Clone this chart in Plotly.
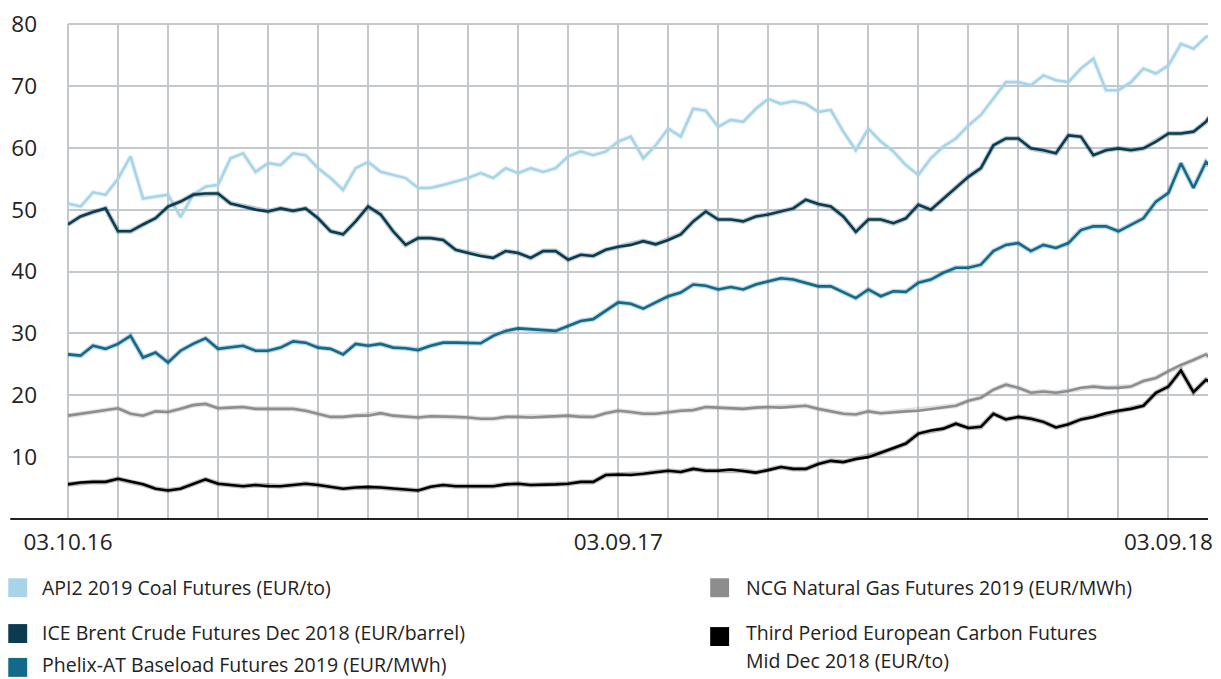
import plotly.graph_objects as go

# ---------------- data ----------------
tick_positions = [0, 44, 88]
tick_labels = ["03.10.16", "03.09.17", "03.09.18"]

coal = [51.0, 50.5, 52.8, 52.4, 55.0, 58.6, 51.8, 52.1, 52.4, 48.8, 52.4, 53.7, 54.0, 58.3, 59.1, 56.1, 57.5, 57.2, 59.1,
        58.8, 56.7, 55.1, 53.2, 56.7, 57.7, 56.1, 55.6, 55.1, 53.5, 53.5, 54.0, 54.5, 55.1, 55.9, 55.1, 56.7, 55.9, 56.7,
        56.1, 56.7, 58.6, 59.4, 58.8, 59.4, 61.0, 61.8, 58.3, 60.4, 63.1, 61.8, 66.3, 66.0, 63.4, 64.5, 64.2, 66.3, 67.9,
        67.1, 67.5, 67.1, 65.8, 66.1, 62.6, 59.6, 63.1, 61.0, 59.4, 57.2, 55.6, 58.3, 60.2, 61.5, 63.6, 65.3, 67.9,
        70.6, 70.6, 70.1, 71.7, 70.9, 70.6, 72.8, 74.4, 69.3, 69.3, 70.6, 72.8, 72.0, 73.3, 76.8, 76.0, 77.9, 78.6]

brent = [47.6, 48.9, 49.6, 50.2, 46.5, 46.5, 47.6, 48.6, 50.5, 51.3, 52.4, 52.6, 52.6, 51.0, 50.5, 50.0, 49.7, 50.2, 49.8,
         50.2, 48.6, 46.5, 46.0, 48.1, 50.5, 49.2, 46.5, 44.3, 45.4, 45.4, 45.1, 43.5, 43.0, 42.5, 42.2, 43.3, 43.0, 42.2,
         43.3, 43.3, 41.9, 42.7, 42.5, 43.5, 44.0, 44.3, 44.9, 44.4, 45.1, 46.0, 48.1, 49.7, 48.4, 48.4, 48.1, 48.9, 49.2,
         49.7, 50.2, 51.6, 50.9, 50.5, 48.9, 46.4, 48.4, 48.4, 47.8, 48.6, 50.8, 50.0, 51.8, 53.5, 55.3, 56.7, 60.4,
         61.5, 61.5, 59.9, 59.6, 59.1, 62.0, 61.8, 58.8, 59.6, 59.9, 59.6, 59.9, 61.0, 62.3, 62.3, 62.6, 64.2, 67.0]

phelix = [26.6, 26.4, 28.0, 27.5, 28.3, 29.6, 26.1, 26.9, 25.3, 27.2, 28.3, 29.2, 27.5, 27.7, 28.0, 27.2, 27.2, 27.7, 28.7,
          28.5, 27.7, 27.5, 26.6, 28.3, 28.0, 28.3, 27.7, 27.6, 27.3, 28.0, 28.5, 28.5, 28.4, 28.4, 29.6, 30.4, 30.8, 30.7,
          30.5, 30.4, 31.2, 32.0, 32.3, 33.6, 35.0, 34.8, 34.0, 35.0, 36.0, 36.6, 37.9, 37.7, 37.1, 37.5, 37.1, 37.9, 38.4,
          38.9, 38.7, 38.2, 37.6, 37.6, 36.6, 35.7, 37.1, 36.0, 36.8, 36.7, 38.2, 38.7, 39.8, 40.6, 40.6, 41.1, 43.3,
          44.3, 44.6, 43.3, 44.3, 43.8, 44.6, 46.7, 47.3, 47.3, 46.5, 47.6, 48.6, 51.3, 52.7, 57.5, 53.5, 57.7, 55.8]

gas = [16.7, 17.0, 17.3, 17.6, 17.9, 17.0, 16.7, 17.4, 17.3, 17.8, 18.4, 18.6, 17.9, 18.0, 18.1, 17.8, 17.8, 17.8, 17.8,
       17.5, 17.0, 16.5, 16.5, 16.7, 16.7, 17.1, 16.7, 16.5, 16.4, 16.6, 16.6, 16.5, 16.4, 16.2, 16.2, 16.5, 16.5, 16.4,
       16.5, 16.6, 16.7, 16.5, 16.5, 17.1, 17.5, 17.3, 17.0, 17.0, 17.3, 17.5, 17.6, 18.1, 18.0, 17.9, 17.8, 18.0, 18.1,
       18.0, 18.1, 18.3, 17.8, 17.4, 17.0, 16.9, 17.4, 17.1, 17.3, 17.4, 17.5, 17.8, 18.1, 18.3, 19.1, 19.6, 20.9,
       21.7, 21.2, 20.4, 20.6, 20.4, 20.7, 21.2, 21.4, 21.2, 21.2, 21.4, 22.3, 22.8, 23.9, 24.9, 25.7, 26.6, 25.0]

carbon = [5.6, 5.9, 6.0, 6.0, 6.5, 6.0, 5.6, 4.9, 4.6, 4.9, 5.7, 6.4, 5.7, 5.5, 5.3, 5.5, 5.3, 5.3, 5.5,
          5.7, 5.5, 5.2, 4.9, 5.1, 5.2, 5.1, 4.9, 4.8, 4.6, 5.2, 5.5, 5.3, 5.3, 5.2, 5.3, 5.6, 5.7, 5.5,
          5.5, 5.6, 5.7, 6.0, 6.0, 7.1, 7.2, 7.1, 7.3, 7.6, 7.8, 7.6, 8.1, 7.8, 7.8, 8.0, 7.8, 7.5, 7.9,
          8.4, 8.1, 8.1, 8.9, 9.4, 9.2, 9.7, 10.0, 10.7, 11.4, 12.2, 13.8, 14.3, 14.6, 15.4, 14.7, 14.9, 17.0,
          16.1, 16.5, 16.2, 15.7, 14.8, 15.3, 16.1, 16.5, 17.1, 17.5, 17.8, 18.3, 20.4, 21.4, 24.0, 20.5, 22.5, 21.5]

series_names = ["API2 2019 Coal Futures (EUR/to)",
                "ICE Brent Crude Futures Dec 2018 (EUR/barrel)",
                "Phelix-AT Baseload Futures 2019 (EUR/MWh)",
                "NCG Natural Gas Futures 2019 (EUR/MWh)",
                "Third Period European Carbon Futures<br>Mid Dec 2018 (EUR/to)"]

colors = ["#a9d4e7", "#0b3b50", "#12698a", "#8d8d8d", "#000000"]

x_index = list(range(len(coal)))

# ---------------- figure ----------------
# the page body has an 8px margin, so the figure is drawn 8px right/down
OFF = 8
W, H = 1221 - 2 * OFF, 679 - OFF
L, R, T = 68 - OFF, 0, 22 - OFF
B = H - (519 - OFF)
PW, PH = W - L - R, H - T - B
X_END = PW / 12.56  # keep the reference's horizontal scale


def px_x(px):  # page pixel -> paper coordinate
    return (px - OFF - L) / PW


def px_y(py):
    return (H - B - (py - OFF)) / PH


def rgba(hex_col, a):
    h = hex_col.lstrip("#")
    r, g, b = int(h[0:2], 16), int(h[2:4], 16), int(h[4:6], 16)
    return f"rgba({r},{g},{b},{a})"


fig = go.Figure()
for name, ys, col in zip(series_names, [coal, brent, phelix, gas, carbon], colors):
    # soft halo under the line
    fig.add_trace(go.Scatter(x=x_index, y=ys, mode="lines", name=name,
                             line=dict(color=rgba(col, 0.28), width=5), showlegend=False,
                             hoverinfo="skip"))
    fig.add_trace(go.Scatter(x=x_index, y=ys, mode="lines", name=name,
                             line=dict(color=col, width=2.6), showlegend=False,
                             hoverinfo="skip"))

grid_col = "#c2c8cc"
font_family = "Open Sans, Noto Sans, sans-serif"

fig.update_layout(
    width=W, height=H,
    margin=dict(l=L, r=R, t=T, b=B, pad=0),
    paper_bgcolor="white", plot_bgcolor="white",
    font=dict(family=font_family, color="#222222"),
    xaxis=dict(range=[0, X_END], tickvals=tick_positions, ticktext=tick_labels,
               showgrid=True, gridcolor=grid_col, gridwidth=2, zeroline=False,
               showline=False, ticks="", tickfont=dict(size=22.5, color="#222222"),
               ticklabelstandoff=7, ticklabeloverflow="allow",
               minor=dict(dtick=4, tick0=0, showgrid=True, gridcolor=grid_col, gridwidth=2)),
    yaxis=dict(range=[0, 80], tickvals=[10, 20, 30, 40, 50, 60, 70, 80],
               showgrid=True, gridcolor=grid_col, gridwidth=2, zeroline=False,
               showline=False, ticks="", tickfont=dict(size=22.5, color="#222222"),
               ticklabelstandoff=30, ticklabeloverflow="allow"),
)

# grid lines on the plot edges (left and top)
fig.add_shape(type="line", xref="paper", yref="paper", x0=0, x1=0, y0=0, y1=1,
              line=dict(color=grid_col, width=2), layer="below")
fig.add_shape(type="line", xref="paper", yref="paper", x0=0, x1=1, y0=1, y1=1,
              line=dict(color=grid_col, width=2), layer="below")

# bottom axis line extending to the left
fig.add_shape(type="line", xref="paper", yref="paper", x0=px_x(10), x1=1, y0=0, y1=0,
              line=dict(color="#222222", width=2), layer="above")

# manual legend (two columns)
legend_items = [
    (colors[0], 8, 40, 588, [(series_names[0], 588)]),
    (colors[1], 8, 40, 634, [(series_names[1], 633)]),
    (colors[2], 8, 40, 668, [(series_names[2], 665)]),
    (colors[3], 713, 747, 588, [(series_names[3], 588)]),
    (colors[4], 713, 747, 637, [("Third Period European Carbon Futures", 633),
                                ("Mid Dec 2018 (EUR/to)", 661)]),
]
for col, sx, tx, sy, lines in legend_items:
    fig.add_shape(type="rect", xref="paper", yref="paper",
                  x0=px_x(sx), x1=px_x(sx + 19), y0=px_y(sy - 9.5), y1=px_y(sy + 9.5),
                  fillcolor=col, line=dict(width=0))
    for txt, ty in lines:
        fig.add_annotation(xref="paper", yref="paper", x=px_x(tx), y=px_y(ty),
                           text=txt, showarrow=False, xanchor="left", yanchor="middle",
                           font=dict(size=19.5, color="#222222", family=font_family))

fig.write_html("out.html")
